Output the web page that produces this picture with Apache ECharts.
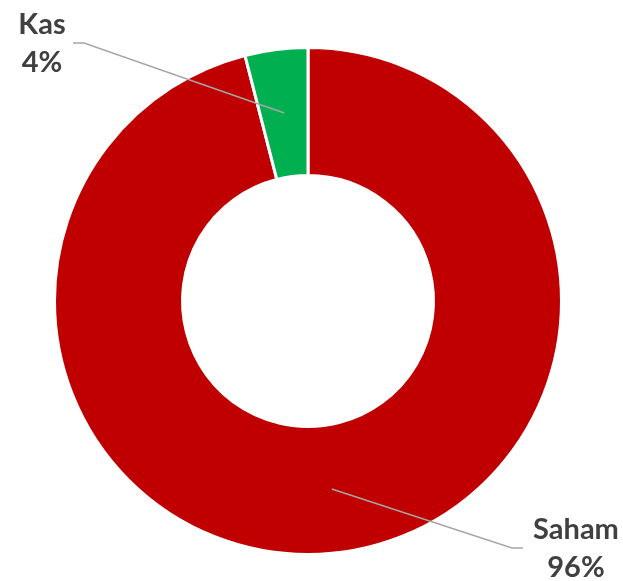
<!DOCTYPE html>
<html>
<head>
<meta charset="utf-8">
<script src="https://cdn.jsdelivr.net/npm/echarts@6/dist/echarts.min.js"></script>
<style>
  html, body { margin: 0; padding: 0; background: #fff; }
  #chart { width: 623px; height: 581px; }
</style>
</head>
<body>
<div id="chart"></div>
<script>
// data
const categories = ['Saham', 'Kas']
const shares = [96, 4]
const sliceColors = ['#C00000', '#00B050']

// where the labels sit (label block centre) and where the leader line bends
const labelSpots = {
  Saham: { x: 576, y: 549, elbow: [512, 548], end: [523, 548] },
  Kas: { x: 42, y: 44, elbow: [84, 43], end: [73, 43] }
}

const cx = 308
const cy = 301
const r0 = 125.5
const r1 = 253.5

const total = shares.reduce((a, b) => a + b, 0)

// mid point of the ring for slice i (clockwise from 12 o'clock)
function midPoint(i) {
  let before = 0
  for (let k = 0; k < i; k++) before += shares[k]
  const mid = (before + shares[i] / 2) / total * Math.PI * 2
  const rm = (r0 + r1) / 2
  return [cx + rm * Math.sin(mid), cy - rm * Math.cos(mid)]
}

const textStyle = { fontFamily: 'Lato', fontWeight: 'bold', fontSize: 29, color: '#404040', lineHeight: 38, align: 'center' }

const chart = echarts.init(document.getElementById('chart'))

chart.setOption({
  animation: false,
  series: [
    {
      // the ring itself
      type: 'pie',
      center: [cx, cy],
      radius: [r0, r1],
      startAngle: 90,
      clockwise: true,
      silent: true,
      itemStyle: { borderColor: '#fff', borderWidth: 3 },
      label: { show: false },
      labelLine: { show: false },
      data: categories.map((name, i) => ({
        name: name,
        value: shares[i],
        itemStyle: { color: sliceColors[i] }
      }))
    },
    {
      // same ring, transparent, only to carry labels and leader lines on top
      type: 'pie',
      z: 5,
      center: [cx, cy],
      radius: [r0, r1],
      startAngle: 90,
      clockwise: true,
      silent: true,
      itemStyle: { color: 'rgba(0,0,0,0)' },
      label: {
        show: true,
        position: 'outside',
        formatter: p => '{n|' + p.name + '}\n{v|' + p.value + '%}',
        rich: { n: textStyle, v: textStyle }
      },
      labelLine: {
        show: true,
        lineStyle: { color: '#A6A6A6', width: 1.5 }
      },
      labelLayout: params => {
        const i = params.dataIndex
        const spot = labelSpots[categories[i]]
        return {
          x: spot.x,
          y: spot.y,
          align: 'center',
          verticalAlign: 'middle',
          labelLinePoints: [midPoint(i), spot.elbow, spot.end]
        }
      },
      data: categories.map((name, i) => ({ name: name, value: shares[i] }))
    }
  ]
})
</script>
</body>
</html>
